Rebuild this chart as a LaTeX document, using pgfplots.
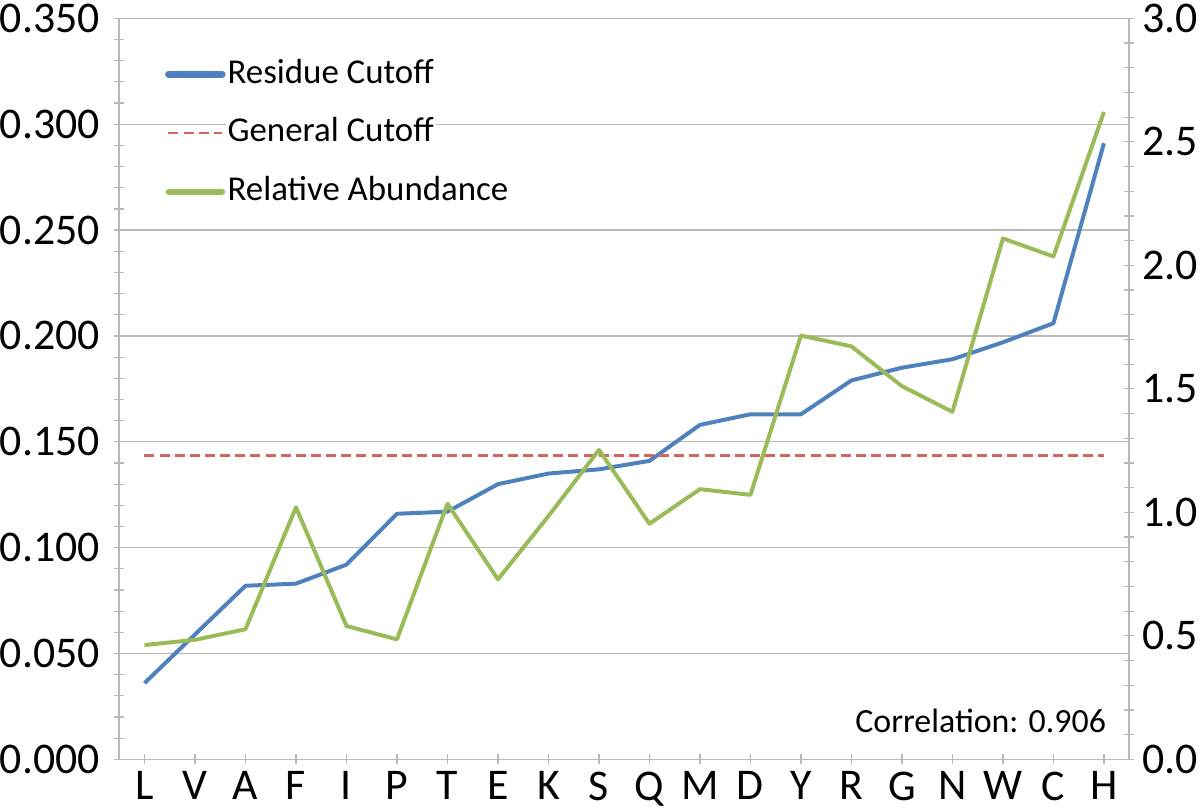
\documentclass[border=0pt]{standalone}
\usepackage{fontspec}
\setmainfont{Carlito}
\usepackage{pgfplots}
\pgfplotsset{compat=1.18}
\definecolor{resblue}{RGB}{79,129,189}
\definecolor{genred}{RGB}{214,100,95}
\definecolor{abgreen}{RGB}{155,187,89}
\definecolor{gridgray}{RGB}{185,185,185}

\pgfplotsset{
  common/.style={
    scale only axis, width=507pt, height=372pt,
    xmin=-0.5, xmax=19.5,
    tick align=center, major tick length=5pt, minor tick length=5pt,
    tick style={gridgray, line width=0.6pt},
    axis line style={gridgray, line width=0.8pt},
    minor y tick num=4,
    ticklabel style={font=\fontsize{22}{26}\selectfont, inner sep=0pt},
  },
}

\begin{document}
\begin{tikzpicture}
\begin{axis}[
  common,
  ymin=0, ymax=0.35,
  xtick={0,...,19},
  xticklabels={L,V,A,F,I,P,T,E,K,S,Q,M,D,Y,R,G,N,W,C,H},
  ytick={0,0.05,0.1,0.15,0.2,0.25,0.3,0.35},
  xtick pos=bottom, ytick pos=left,
  ymajorgrids, grid style={gridgray, line width=0.6pt},
  scaled y ticks=false,
  xticklabel style={inner ysep=2pt, yshift=-1.5pt},
  yticklabel style={inner ysep=2pt, xshift=-7pt, /pgf/number format/fixed, /pgf/number format/fixed zerofill,
    /pgf/number format/precision=3, /pgf/number format/assume math mode=true},
]
% residue cutoff
\addplot[resblue, line width=2pt, line join=round] coordinates {
  (0,0.036) (1,0.059) (2,0.082) (3,0.083) (4,0.092) (5,0.116) (6,0.117)
  (7,0.130) (8,0.135) (9,0.137) (10,0.141) (11,0.158) (12,0.163) (13,0.163)
  (14,0.179) (15,0.185) (16,0.189) (17,0.197) (18,0.206) (19,0.291)
};
% general cutoff
\addplot[genred, line width=1.1pt, dash pattern=on 5pt off 2.6pt] coordinates {
  (0,0.1435) (19,0.1435)
};
\node[anchor=base east, font=\fontsize{17}{20}\selectfont]
  at (rel axis cs:0.984,0.036) {Correlation: 0.906};
\end{axis}

\begin{axis}[
  common,
  ymin=0, ymax=3,
  axis y line*=right, axis x line=none,
  ytick={0,0.5,1,1.5,2,2.5,3},
  yticklabel style={inner xsep=1pt, inner ysep=2pt, xshift=3pt, /pgf/number format/fixed, /pgf/number format/fixed zerofill,
    /pgf/number format/precision=1, /pgf/number format/assume math mode=true},
  legend image code/.code={\draw[#1] (1pt,0pt) -- (28pt,0pt);},
  legend cell align=left,
  legend style={at={(0.045,0.948)}, anchor=north west, draw=none, fill=none,
    inner sep=0pt, row sep=12.5pt, column sep=0pt,
    font=\fontsize{17.5}{20}\selectfont,
    nodes={fill=white, inner sep=1pt, text height=12pt, text depth=3pt}},
]
% relative abundance
\addplot[abgreen, line width=2pt, line join=round, forget plot] coordinates {
  (0,0.463) (1,0.484) (2,0.527) (3,1.021) (4,0.540) (5,0.486) (6,1.035)
  (7,0.729) (8,0.985) (9,1.253) (10,0.954) (11,1.094) (12,1.071) (13,1.716)
  (14,1.672) (15,1.511) (16,1.407) (17,2.109) (18,2.036) (19,2.621)
};
\addlegendimage{resblue, line width=3.4pt, line cap=round}
\addlegendentry{Residue Cutoff}
\addlegendimage{genred, line width=1.1pt, dash pattern=on 5pt off 2.6pt}
\addlegendentry{General Cutoff}
\addlegendimage{abgreen, line width=2.8pt, line cap=round}
\addlegendentry{Relative Abundance}
\end{axis}
\end{tikzpicture}
\end{document}
